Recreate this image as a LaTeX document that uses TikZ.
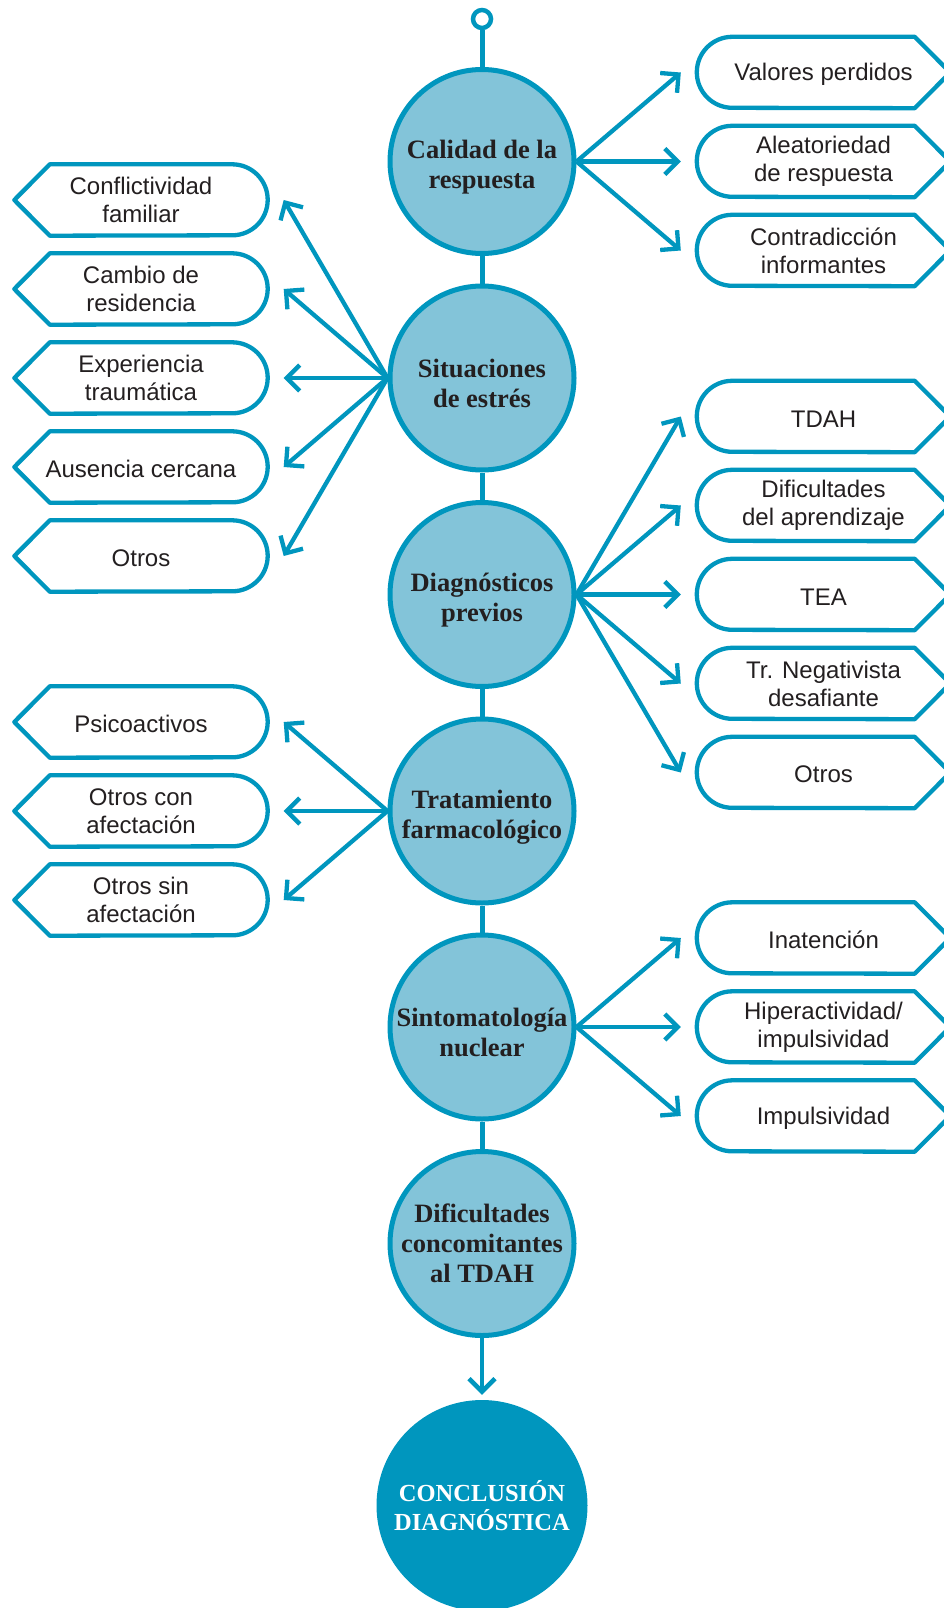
\documentclass[tikz,border=0pt]{standalone}
\usepackage{fontspec}
\setmainfont{Liberation Serif}
\setsansfont{Liberation Sans}
\usepackage{xcolor}
\usetikzlibrary{arrows.meta,positioning}

\definecolor{azul}{RGB}{0,150,190}
\definecolor{celeste}{RGB}{131,196,217}
\definecolor{tinta}{RGB}{35,31,32}

\begin{document}
\begin{tikzpicture}[x=1pt, y=1pt, >={Straight Barb[length=13pt,width=26pt]},
    etapa/.style={circle, draw=azul, fill=celeste, line width=5pt,
      minimum size=184pt, inner sep=0pt, align=center, text=tinta,
      font=\fontsize{26.5}{30}\selectfont\bfseries,
      execute at begin node={\rule{0pt}{60pt}}},
    cierre/.style={circle, fill=azul, minimum size=211pt, inner sep=0pt,
      align=center, text=white, font=\fontsize{24.5}{29}\selectfont\bfseries},
    caja/.style={minimum width=253pt, minimum height=71pt, inner sep=0pt,
      align=center, text=tinta, font=\sffamily\fontsize{24}{28}\selectfont,
      execute at begin node={\rule{0pt}{21pt}}},
    contorno/.style={draw=azul, line width=4.3pt, line join=round},
    eje/.style={draw=azul, line width=5pt},
    arr/.style={->, draw=azul, line width=4.3pt}]
  \useasboundingbox (0,0) rectangle (944,-1608);

  % columna central
  \node[circle, draw=azul, line width=4.5pt, minimum size=18pt, inner sep=0pt] (ini) at (482,-19) {};
  \node[etapa] (cal) at (482,-161.5) {Calidad de la\\respuesta};
  \node[etapa] (sit) at (482,-378) {Situaciones\\de estrés};
  \node[etapa] (dia) at (482,-594.5) {Diagnósticos\\previos};
  \node[etapa] (tra) at (482,-811) {Tratamiento\\farmacológico};
  \node[etapa] (sin) at (482,-1027) {Sintomatología\\nuclear};
  \node[etapa] (dif) at (482,-1243.5) {Dificultades\\concomitantes\\al TDAH};
  \node[cierre] (con) at (482,-1505.5) {CONCLUSIÓN\\DIAGNÓSTICA};

  \draw[eje] (ini) -- (cal);
  \draw[eje] (cal) -- (sit);
  \draw[eje] (sit) -- (dia);
  \draw[eje] (dia) -- (tra);
  \draw[eje] (tra) -- (sin);
  \draw[eje] (sin) -- (dif);
  \draw[arr, line width=4.5pt, shorten >=5pt] (dif) -- (con);

  % cajas de la derecha
  \node[caja] (vp) at (823.5,-72.5) {Valores perdidos};
  \node[caja] (ar) at (823.5,-161.5) {Aleatoriedad\\de respuesta};
  \node[caja] (ci) at (823.5,-250.5) {Contradicción\\informantes};
  \node[caja] (tdah) at (823.5,-416.5) {TDAH};
  \node[caja] (dap) at (823.5,-505.5) {Dificultades\\del aprendizaje};
  \node[caja] (tea) at (823.5,-594.5) {TEA};
  \node[caja] (tnd) at (823.5,-683.5) {Tr. Negativista\\desafiante};
  \node[caja] (otd) at (823.5,-772.5) {Otros};
  \node[caja] (ina) at (823.5,-938) {Inatención};
  \node[caja] (hip) at (823.5,-1027) {Hiperactividad/\\impulsividad};
  \node[caja] (imp) at (823.5,-1116) {Impulsividad};

  % cajas de la izquierda
  \node[caja] (cf) at (141,-200) {Conflictividad\\familiar};
  \node[caja] (cr) at (141,-289) {Cambio de\\residencia};
  \node[caja] (et) at (141,-378) {Experiencia\\traumática};
  \node[caja] (ac) at (141,-467) {Ausencia cercana};
  \node[caja] (ots) at (141,-556) {Otros};
  \node[caja] (psi) at (141,-722) {Psicoactivos};
  \node[caja] (occ) at (141,-811) {Otros con\\afectación};
  \node[caja] (osn) at (141,-900) {Otros sin\\afectación};

  \foreach \b in {vp,ar,ci,tdah,dap,tea,tnd,otd,ina,hip,imp}
    \draw[contorno] (\b.east) -- ([xshift=-35.5pt]\b.north east) -- ([xshift=35.5pt]\b.north west)
      arc[start angle=90, end angle=270, radius=35.5pt] -- ([xshift=-35.5pt]\b.south east) -- cycle;
  \foreach \b in {cf,cr,et,ac,ots,psi,occ,osn}
    \draw[contorno] (\b.west) -- ([xshift=35.5pt]\b.north west) -- ([xshift=-35.5pt]\b.north east)
      arc[start angle=90, end angle=-90, radius=35.5pt] -- ([xshift=35.5pt]\b.south west) -- cycle;

  % flechas
  \foreach \b in {vp,ar,ci}
    \draw[arr] (cal.east) -- ([xshift=-16pt]\b.west);
  \foreach \b in {tdah,dap,tea,tnd,otd}
    \draw[arr] (dia.east) -- ([xshift=-16pt]\b.west);
  \foreach \b in {ina,hip,imp}
    \draw[arr] (sin.east) -- ([xshift=-16pt]\b.west);
  \foreach \b in {cf,cr,et,ac,ots}
    \draw[arr] (sit.west) -- ([xshift=16pt]\b.east);
  \foreach \b in {psi,occ,osn}
    \draw[arr] (tra.west) -- ([xshift=16pt]\b.east);
\end{tikzpicture}
\end{document}
